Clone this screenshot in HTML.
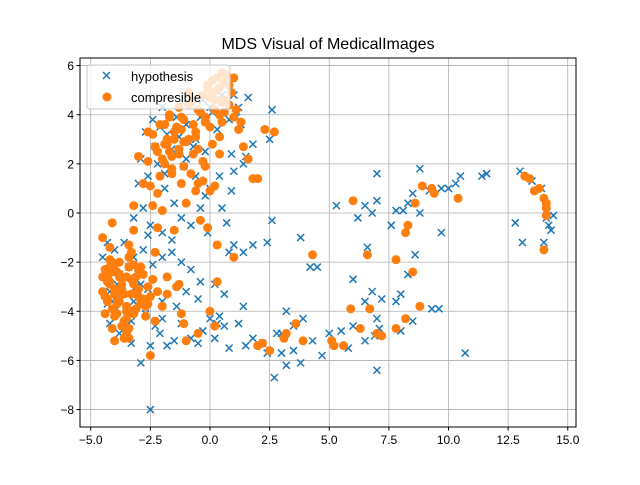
<!DOCTYPE html>
<html><head><meta charset="utf-8"><style>
body{margin:0;background:#fff;}
svg text{font-family:"Liberation Sans","DejaVu Sans",sans-serif;}
</style></head><body>
<svg id="chart" width="640" height="480" viewBox="0 0 640 480" xmlns="http://www.w3.org/2000/svg">
<rect width="640" height="480" fill="#fff"/>
<text x="328" y="49" font-size="16" text-anchor="middle">MDS Visual of MedicalImages</text>
<g id="grid"></g>
<g id="marks"></g>
<rect x="80" y="58" width="496" height="369" fill="none" stroke="#000" stroke-width="1"/>
<g id="ticks"></g>
<g>
<rect x="87" y="65" width="143" height="44" rx="3" fill="#fff" fill-opacity="0.8" stroke="#ccc"/>
<g>
<path d="M103,72 l7,7 M110,72 l-7,7" stroke="#1f77b4" stroke-width="1.5"/>
<text x="131" y="81" font-size="13">hypothesis</text></g>
<g>
<circle cx="107" cy="97" r="4.5" fill="#ff7f0e"/>
<text x="131" y="102" font-size="13">compresible</text></g>
</g>
</svg>
<script>
const xTicks=[-5,-2.5,0,2.5,5,7.5,10,12.5,15];
const yTicks=[-8,-6,-4,-2,0,2,4,6];
const hypX=[12.8,13,13.1,13.5,14,14.1,14.2,14.3,14.4,13.9,11.4,11.6,10.5,10.3,10,9.7,9.2,8.8,8.5,8.3,8.1,7.8,7.6,7,7,6.8,6.6,6.5,6.2,5.3,9.7,8.8,8.6,8.3,8,7.8,7.2,6.8,6.5,6,7,7.1,6.9,7,6.5,6,5.8,5.5,5,4.7,4.3,3.8,3.5,3.2,3,2.7,2.4,2.2,1.8,1.5,3.9,3.5,3,9.3,9.6,10.7,8.5,8,4.5,4.2,3.8,2.6,2.4,1.8,1.4,1,0.8,2.5,2.6,1.8,1.4,1,0.9,1.3,1.6,1.2,0.8,-2.5,0.8,0.6,0.3,0,-0.3,-0.5,-0.8,-1.5,-1.8,-2.1,-2.5,-2.9,-3.3,-3.8,-4.2,-4.5,-4.3,-4,-3.6,-3.2,-2.8,-2.4,-2,-1.6,-1.2,-0.8,-0.4,0.2,0.6,-1,-1.4,-2,-2.6,-3.2,-3.8,-4.2,-4.4,-3,-2.6,-2.2,-1.9,-1.5,-1.2,-0.8,-0.4,0,0.4,-0.2,-0.6,-1,-1.4,-1.8,-2.3,-2.7,-3,-3.2,-2.8,-2.5,-2,-1.6,-0.4,0,0.5,1,-2,-2.4,-1.6,-1,-0.6,0.5,0.7,-0.1,3.2,2.8,-3.5,-4,-3.1,-2,-1.2,0.2,1.2,1.4,-3.7,-4.1,-3.4,-2.9,-0.9,-1.7,0.3,-0.3,
-1.3,-0.7,0.1,-2.1,-2.9,-1.9,-3.5,-4.3,-2.3,-0.5,0.9,1.1,-1.1,-0.2,-2.6,-3.9,-3.3,-2.7,0.4,1.5];
const hypY=[-0.4,1.7,-1.2,1.3,-1.2,-0.2,-0.5,-0.7,-0.1,1,1.5,1.6,1.5,1.2,1,1,0.9,1.8,0.8,0.4,0.1,0.1,-0.5,1.6,0.5,0,-1.4,0.3,-0.2,0.3,-0.8,0,-1.7,-2.5,-3.3,-3.6,-3.5,-3.2,-3.6,-2.7,-4.3,-4.7,-5,-6.4,-5.2,-4.6,-5.5,-4.8,-4.9,-5.8,-5.2,-6.1,-5.6,-6.2,-5.7,-6.7,-5.7,-5.3,-5.1,-5.4,-4.3,-4.6,-4.9,-3.9,-3.9,-5.7,-4.4,-4.8,-2.2,-2.2,-1,-0.3,-1.2,-1.3,-1.6,-1.3,-1.6,3,4.2,2.8,2,1.7,0.9,3.6,4.7,4.3,3.8,-8,-5.5,-4.6,-4.5,-4.3,-4.8,-5.3,-5.1,-5.2,-5.4,-4.9,-5.4,-6.1,-5.3,-4.9,-4.5,-1.8,-1.2,-1.5,-1.2,-1.8,-1.5,-2.1,-1.8,-1.6,-2,-2.3,-2.8,-2.9,-3.3,-3.2,-3.8,-3.6,-3.1,-3.6,-2.5,-3.2,-2.6,-2.5,1.5,2,1,0.4,-0.2,-0.5,0.2,1,1.5,2.5,3,3.6,3.9,3.2,2.7,3.3,1.2,-0.2,0.2,-0.5,-0.8,-1.1,3.9,4.3,4.8,4.8,4.3,3.8,2.6,2.2,1.5,0.2,-0.4,-0.8,-4,-4.9,-4.2,-4,-3,-4.3,-4.5,-5.1,-4.5,-3.8,-2.8,-3.6,-2.2,-2.9,2.9,1.8,3.4,4.6,
3.1,2.7,4.1,3.5,2.2,1.6,-3.9,-3.7,-4.6,-3.5,2.4,3.9,1.9,0.7,-0.9,-2.9,-4.4,-4.1,-4.2,2.3];
const compX=[13.2,13.4,13.8,13.6,14,14.1,14.1,14.1,14,10.4,9.3,9.4,8.9,8.6,8.2,8.3,8.5,7.8,8.8,6,6.6,5.9,6.3,6.7,7,7.2,7.8,8.2,4.3,5.1,5.2,5.6,3.9,3.6,3.2,3.1,2.5,2.2,2,2.7,2.3,2,1.8,1.4,1.2,0.6,0.5,1,0.3,0,0.2,-0.5,-1.1,-1.2,-1,-2.5,-3.4,-4,-3.3,-1.8,-2,-1.4,-1.5,-0.4,-0.1,0.3,-2.3,-3.2,-3.4,-4.1,-4.5,-4.2,-3.5,-2.4,-2.2,-2.8,-3,-3.2,-2.6,-0.2,0.4,-0.6,-1.2,
-2.4,-2.1,-1.9,-1.7,-1.5,-1.3,-1.1,-0.9,-0.7,-0.5,-0.3,-0.1,0.1,0.3,0.5,0.7,0.9,1.1,-2.2,-1.8,-1.4,-1,-0.6,-0.2,0.2,0.6,1,-2,-1.6,-1.2,-0.8,-0.4,0,0.4,0.8,-1.7,-1.3,-0.9,-0.5,-0.1,0.3,-2.6,-2.3,-1.9,-1.6,-1.1,0.1,0.5,
-4.4,-4.2,-4,-3.8,-3.6,-3.4,-3.2,-3,-2.8,-2.6,-4.3,-4.1,-3.9,-3.7,-3.5,-3.3,-3.1,-2.9,-4.4,-4,-3.6,-3.2,-2.8,-2.4,-4.2,-3.8,-3.4,-3,-2.6,-4.1,-3.7,-3.3,-2.9,-4.3,-3.9,-3.5,-2.2,-1.8,-1.3,
-0.8,-0.4,0,0.4,0.8,-1.2,-0.6,-0.2,0.2,0.6,1,-1.5,-1.1,-0.7,-0.3,0.1,-1.9,-1.4,-0.9,-2.1,-1.6,-2.5,-2.2,-1.8,-1.3,-0.8,-0.3,0.2,1.3,1.6,-1.0,-0.5,0.0,0.4,-1.7,-2.0,
-4.5,-4.3,-4.1,-3.9,-3.7,-3.5,-3.3,-3.1,-2.7,-2.5,-4.4,-4.2,-3.8,-3.6,-3.4,-3,-4.5,-4,-3.7,-3.3,-2.9,-4.2,-3.9,-3.5,-4.3,-4.1,-3.8,-3.2,-2.3,-2.7,-3.6,-4];
const compY=[1.5,1.4,1,0.9,0.6,0.4,0.2,-0.1,-1.5,0.6,1,0.8,1.1,0.4,-0.8,-0.5,-2.4,-1.9,-3.8,0.5,-1.7,-3.9,-4.7,-3.9,-4.9,-5,-4.7,-4.3,-1.7,-5.2,-5.4,-5.4,-5.2,-4.5,-4.9,-5.1,-5.6,-5.3,-5.4,3.3,3.4,1.4,1.4,2.7,3.4,4.1,3.7,-1.8,-2.8,-4,-4.6,-4.9,-4.5,-4.1,-5.2,-5.8,-5.1,-5.2,-3.3,-3.3,-3.8,-3,-0.7,-0.3,-0.6,-1.3,-1.6,-0.7,-1.3,-0.4,-1,-2.2,-2.6,0.3,-0.6,1.2,2.3,0.3,2.1,1.9,2.4,0.9,1.2,
3.2,3.6,2.8,4,3.3,2.6,3.8,4.4,3.6,4.2,4.8,5.2,5.4,5,4.5,5.6,4.9,4.2,2.5,3,3.5,2.9,3.1,3.9,4.6,5.3,5.5,2.2,2.3,3.4,4.7,4.1,3.5,4,4.4,3.9,4.3,4.9,2.6,5.1,5.5,3.3,2.7,2,1.6,1.9,4.9,5.7,
-2.3,-2.8,-3.1,-2.6,-3.3,-2.2,-2.9,-3.4,-2.5,-3,-3.6,-3.9,-2.4,-3.2,-3.8,-2.7,-3.9,-2.2,-3.4,-4.2,-4.4,-4.1,-3.5,-2.7,-1.9,-2,-1.8,-2.3,-3.7,-4.7,-4.6,-4,-3.6,-2.6,-3.7,-4.9,-3.2,-2.6,-2.9,
4.5,4.1,4.7,5.1,5.2,3.9,3.3,3.7,4.2,4.6,3.9,3.0,2.9,2.4,2.1,2.8,3.6,3.4,3.0,1.5,1.8,1.1,0.8,2.8,2.4,1.6,1.3,1.1,3.7,2.2,0.4,1.2,0.9,3.1,2.5,0.1,
-2.6,-3.5,-2.0,-3.5,-2.9,-4,-2.7,-2.6,-3.8,-3.4,-4.1,-2.9,-2.5,-4.4,-4.7,-3.1,-3.2,-3.3,-3.1,-1.6,-3.7,-1.4,-4.1,-4.3,-2.8,-2.4,-3.6,-2.1,-4.4,-4.2,-5.1,-2.1];
const X0=80,X1=576,Y0=58,Y1=427;
const sx=v=>210+v*23.85;
const sy=v=>213-v*24.57;
const NS="http://www.w3.org/2000/svg";
const grid=document.getElementById('grid'),ticks=document.getElementById('ticks'),marks=document.getElementById('marks');
function mk(t,a,p){const e=document.createElementNS(NS,t);for(const k in a)e.setAttribute(k,a[k]);p.appendChild(e);return e;}
const fmt=v=>(v<0?"\u2212":"")+Math.abs(v);
xTicks.forEach(v=>{const x=sx(v);
const g=mk('line',{x1:x,x2:x,y1:Y0,y2:Y1,stroke:'#b0b0b0','stroke-width':0.8},grid);


mk('line',{x1:x,x2:x,y1:Y1,y2:Y1+3.5,stroke:'#000'},ticks);
const t=mk('text',{x:x,y:Y1+17,'font-size':12,'text-anchor':'middle'},ticks);
t.textContent=(v<0?"\u2212":"")+Math.abs(v).toFixed(1);

});
yTicks.forEach(v=>{const y=sy(v);
const g=mk('line',{x1:X0,x2:X1,y1:y,y2:y,stroke:'#b0b0b0','stroke-width':0.8},grid);


mk('line',{x1:X0-3.5,x2:X0,y1:y,y2:y,stroke:'#000'},ticks);
const t=mk('text',{x:X0-6,y:y+4.5,'font-size':12,'text-anchor':'end'},ticks);t.textContent=fmt(v);

});
hypX.forEach((v,i)=>{const x=sx(v),y=sy(hypY[i]);
const p=mk('path',{d:`M${x-3.5},${y-3.5}l7,7M${x+3.5},${y-3.5}l-7,7`,stroke:'#1f77b4','stroke-width':1.5},marks);

});
compX.forEach((v,i)=>{
const c=mk('circle',{cx:sx(v),cy:sy(compY[i]),r:4.5,fill:'#ff7f0e'},marks);

});
</script>
</body></html>
